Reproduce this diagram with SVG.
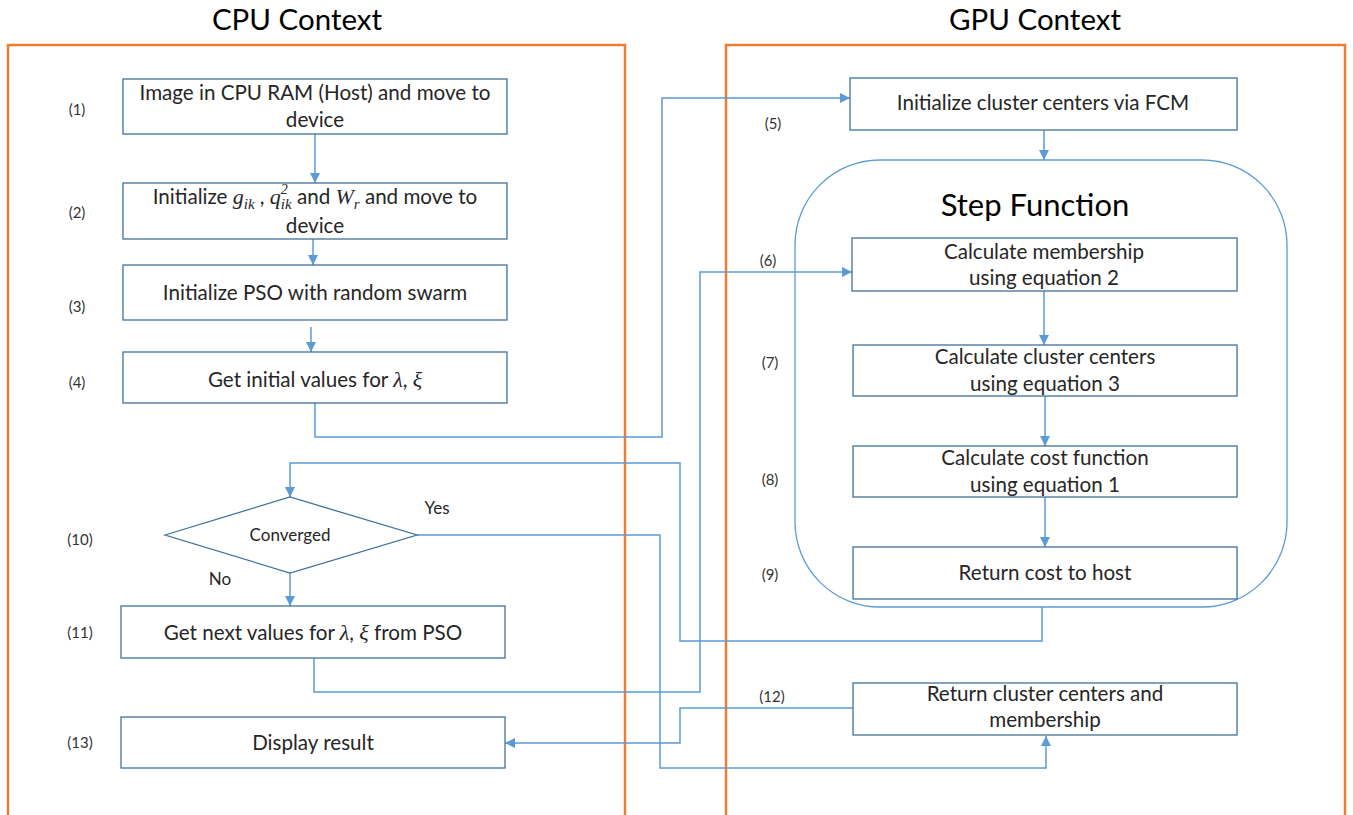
<svg xmlns="http://www.w3.org/2000/svg" width="1353" height="815" viewBox="0 0 1353 815">
<style>
  .ctx { fill: none; stroke: #ed7d31; stroke-width: 2.5; }
  .box { fill: #ffffff; stroke: #41719c; stroke-width: 1.3; }
  .con { fill: none; stroke: #5b9bd5; stroke-width: 1.5; }
  .t { font-family: Lato, "Open Sans", sans-serif; font-size: 20.6px; fill: #262626; text-anchor: middle; }
  .title { font-family: Lato, "Open Sans", sans-serif; font-size: 29.5px; fill: #000; text-anchor: middle; }
  .sf { font-family: Lato, "Open Sans", sans-serif; font-size: 31px; fill: #000; text-anchor: middle; }
  .num { font-family: Lato, "Open Sans", sans-serif; font-size: 15px; fill: #333; text-anchor: middle; }
  .small { font-family: Lato, "Open Sans", sans-serif; font-size: 17px; fill: #262626; text-anchor: middle; }
  .m { font-family: "Liberation Serif", "DejaVu Serif", serif; font-style: italic; }
</style>
<defs>
  <marker id="arr" viewBox="0 0 10 10" refX="10" refY="5" markerWidth="10" markerHeight="10" markerUnits="userSpaceOnUse" orient="auto">
    <path d="M0,0 L10,5 L0,10 z" fill="#5b9bd5"/>
  </marker>
</defs>
<rect width="1353" height="815" fill="#ffffff"/>

<g id="cpu-context">
  <text class="title" x="297" y="30">CPU Context</text>
  <path class="ctx" d="M8,820 V45 H625 V820"/>
</g>
<g id="gpu-context">
  <text class="title" x="1035" y="30">GPU Context</text>
  <path class="ctx" d="M726,820 V45 H1345 V820"/>
</g>

<g id="step-function">
  <rect x="795" y="160" width="492" height="447" rx="85" ry="85" fill="none" stroke="#5b9bd5" stroke-width="1.3"/>
  <text class="sf" x="1035" y="216">Step Function</text>
</g>

<g id="connectors">
  <path class="con" d="M315,134 V183" marker-end="url(#arr)"/>
  <path class="con" d="M313,239 V265" marker-end="url(#arr)"/>
  <path class="con" d="M311,327 V352" marker-end="url(#arr)"/>
  <path class="con" d="M315,403 V437 H662 V98 H850" marker-end="url(#arr)"/>
  <path class="con" d="M1044,130 V160" marker-end="url(#arr)"/>
  <path class="con" d="M1044,291 V345" marker-end="url(#arr)"/>
  <path class="con" d="M1045,396 V446" marker-end="url(#arr)"/>
  <path class="con" d="M1045,497 V547" marker-end="url(#arr)"/>
  <path class="con" d="M1042,607 V641 H680 V463 H290 V497" marker-end="url(#arr)"/>
  <path class="con" d="M290,573 V606" marker-end="url(#arr)"/>
  <path class="con" d="M314,658 V692 H700 V272 H852" marker-end="url(#arr)"/>
  <path class="con" d="M417,535 H660 V768 H1046 V736" marker-end="url(#arr)"/>
  <path class="con" d="M853,708 H680 V743 H505" marker-end="url(#arr)"/>
</g>

<g id="n1">
  <rect class="box" x="123" y="79" width="384" height="55"/>
  <text class="t" x="315" y="100">Image in CPU RAM (Host) and move to</text>
  <text class="t" x="315" y="127">device</text>
  <text class="num" x="77" y="115">(1)</text>
</g>
<g id="n2">
  <rect class="box" x="123" y="183" width="384" height="56"/>
  <text class="t" x="315" y="204">Initialize <tspan class="m" font-size="22">g</tspan><tspan class="m" font-size="15" dy="5">ik</tspan><tspan dy="-5"> , </tspan><tspan class="m" font-size="22">q</tspan><tspan class="m" font-size="14" dy="-10">2</tspan><tspan class="m" font-size="15" dx="-7" dy="15">ik</tspan><tspan dy="-5"> and </tspan><tspan class="m" font-size="22">W</tspan><tspan class="m" font-size="15" dy="5">r</tspan><tspan dy="-5"> and move to</tspan></text>
  <text class="t" x="315" y="233">device</text>
  <text class="num" x="77" y="218">(2)</text>
</g>
<g id="n3">
  <rect class="box" x="123" y="265" width="384" height="55"/>
  <text class="t" x="315" y="300">Initialize PSO with random swarm</text>
  <text class="num" x="77" y="312">(3)</text>
</g>
<g id="n4">
  <rect class="box" x="123" y="352" width="384" height="51"/>
  <text class="t" x="315" y="387">Get initial values for <tspan class="m" font-size="22">λ</tspan>, <tspan class="m" font-size="22">ξ</tspan></text>
  <text class="num" x="77" y="388">(4)</text>
</g>
<g id="n5">
  <rect class="box" x="850" y="78" width="387" height="52"/>
  <text class="t" x="1043" y="110">Initialize cluster centers via FCM</text>
  <text class="num" x="773" y="129">(5)</text>
</g>
<g id="n6">
  <rect class="box" x="852" y="238" width="385" height="53"/>
  <text class="t" x="1044" y="259">Calculate membership</text>
  <text class="t" x="1044" y="285">using equation 2</text>
  <text class="num" x="768" y="266">(6)</text>
</g>
<g id="n7">
  <rect class="box" x="853" y="345" width="384" height="51"/>
  <text class="t" x="1045" y="364">Calculate cluster centers</text>
  <text class="t" x="1045" y="391">using equation 3</text>
  <text class="num" x="770" y="368">(7)</text>
</g>
<g id="n8">
  <rect class="box" x="853" y="446" width="384" height="51"/>
  <text class="t" x="1045" y="465">Calculate cost function</text>
  <text class="t" x="1045" y="492">using equation 1</text>
  <text class="num" x="770" y="485">(8)</text>
</g>
<g id="n9">
  <rect class="box" x="853" y="547" width="384" height="52"/>
  <text class="t" x="1045" y="580">Return cost to host</text>
  <text class="num" x="770" y="580">(9)</text>
</g>
<g id="n10">
  <polygon points="165,535 290,497 417,535 290,573" fill="#ffffff" stroke="#41719c" stroke-width="1.3"/>
  <text class="small" x="290" y="541">Converged</text>
  <text class="small" x="437" y="514">Yes</text>
  <text class="small" x="220" y="585">No</text>
  <text class="num" x="80" y="545">(10)</text>
</g>
<g id="n11">
  <rect class="box" x="121" y="606" width="384" height="52"/>
  <text class="t" x="313" y="640">Get next values for <tspan class="m" font-size="22">λ</tspan>, <tspan class="m" font-size="22">ξ</tspan> from PSO</text>
  <text class="num" x="80" y="638">(11)</text>
</g>
<g id="n12">
  <rect class="box" x="853" y="683" width="384" height="52"/>
  <text class="t" x="1045" y="701">Return cluster centers and</text>
  <text class="t" x="1045" y="727">membership</text>
  <text class="num" x="772" y="702">(12)</text>
</g>
<g id="n13">
  <rect class="box" x="121" y="717" width="384" height="51"/>
  <text class="t" x="313" y="750">Display result</text>
  <text class="num" x="80" y="748">(13)</text>
</g>
</svg>
